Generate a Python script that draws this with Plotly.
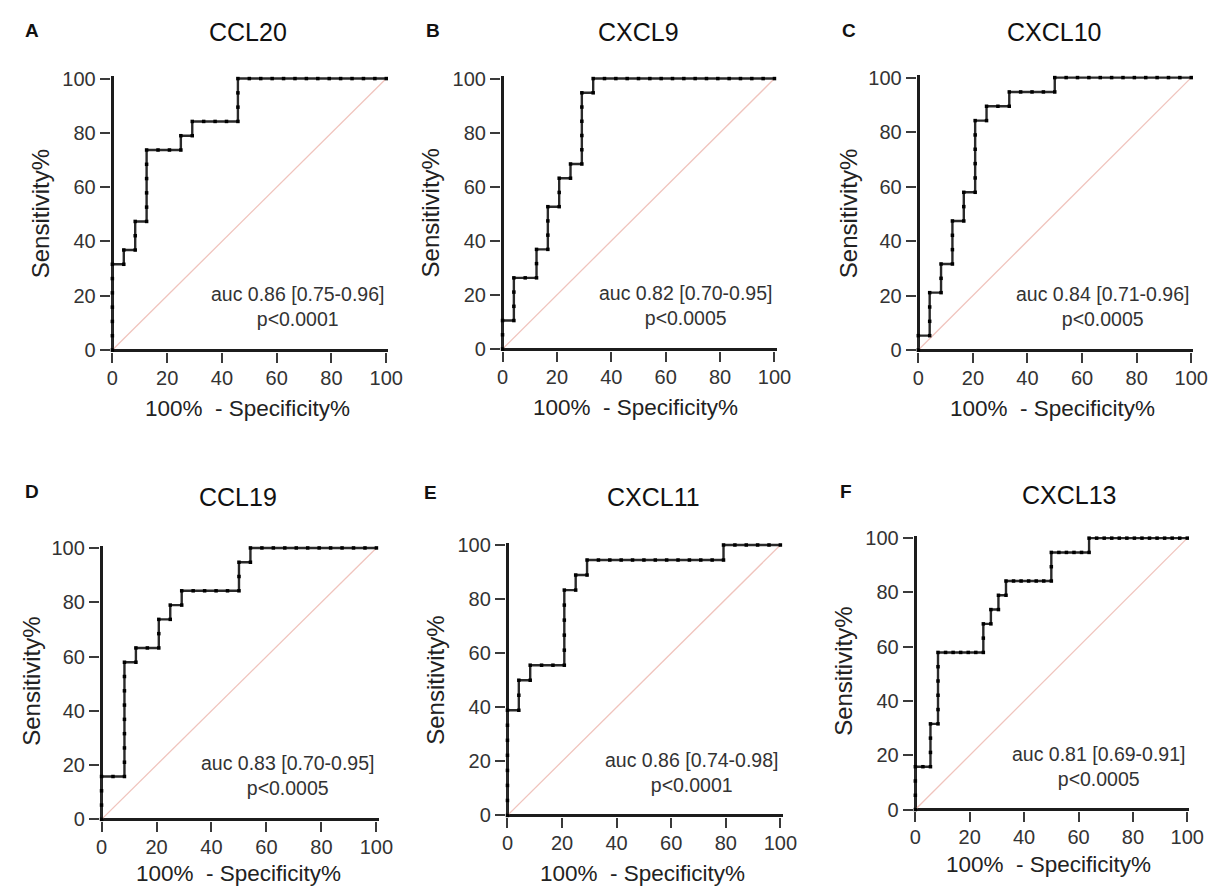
import plotly.graph_objects as go

# ---- ROC data: each panel is a run-length walk through the sorted cutoffs ----
# (cases gained, controls gained) per run; sensitivity = cases / n_cases,
# 100% - specificity = controls / n_controls
panel_letters = ["A", "B", "C", "D", "E", "F"]
markers_names = ["CCL20", "CXCL9", "CXCL10", "CCL19", "CXCL11", "CXCL13"]
n_cases = [19, 19, 19, 19, 18, 19]
n_controls = [24, 24, 24, 24, 24, 36]

ccl20_runs = [(6, 1), (1, 1), (2, 1), (5, 3), (1, 1), (1, 4), (3, 13)]
cxcl9_runs = [(2, 1), (3, 2), (2, 1), (3, 1), (2, 1), (1, 1), (5, 1), (1, 16)]
cxcl10_runs = [(1, 1), (3, 1), (2, 1), (3, 1), (2, 1), (5, 1), (1, 2), (1, 4), (1, 12)]
ccl19_runs = [(3, 2), (8, 1), (1, 2), (2, 1), (1, 1), (1, 5), (2, 1), (1, 11)]
cxcl11_runs = [(7, 1), (2, 1), (1, 3), (5, 1), (1, 1), (1, 12), (1, 5)]
cxcl13_runs = [(3, 2), (3, 1), (5, 6), (2, 1), (1, 1), (1, 1), (1, 6), (2, 5), (1, 13)]
all_runs = [ccl20_runs, cxcl9_runs, cxcl10_runs, ccl19_runs, cxcl11_runs, cxcl13_runs]

auc_labels = [
    "auc 0.86 [0.75-0.96]",
    "auc 0.82 [0.70-0.95]",
    "auc 0.84 [0.71-0.96]",
    "auc 0.83 [0.70-0.95]",
    "auc 0.86 [0.74-0.98]",
    "auc 0.81 [0.69-0.91]",
]
p_labels = ["p<0.0001", "p<0.0005", "p<0.0005", "p<0.0005", "p<0.0001", "p<0.0005"]
tick_values = [0, 20, 40, 60, 80, 100]

# ---- layout geometry (pixels): x of 0 and 100, y of 0 and 100 ----
W, H = 1220, 895
axes_px = [
    (110, 388, 348, 71),
    (506, 782, 347, 71),
    (928, 1205, 348, 70),
    (99, 378, 827, 550),
    (511, 788, 823, 547),
    (925, 1201, 817, 540),
]
title_px = [(248, 23), (644, 23), (1066, 23), (237, 498), (659, 498), (1081, 496)]
letter_px = [(28, 22), (435, 22), (858, 22), (28, 492), (433, 493), (855, 492)]
xtitle_px = [(247, 408), (641, 407), (1064, 408), (238, 882), (648, 882), (1060, 873)]
ytitle_px = [(37, 209), (433, 208), (857, 209), (28, 686), (438, 685), (852, 676)]

LO, HI = -0.6, 100.8
FONT = "Arial, Liberation Sans, sans-serif"
INK = "#1c1c1c"


def roc_points(runs, nc, nn):
    """Walk the cutoffs one observation at a time."""
    tp, fp = 0, 0
    xs, ys = [0.0], [0.0]
    for up, right in runs:
        for _ in range(up):
            tp += 1
            xs.append(100.0 * fp / nn)
            ys.append(100.0 * tp / nc)
        for _ in range(right):
            fp += 1
            xs.append(100.0 * fp / nn)
            ys.append(100.0 * tp / nc)
    return xs, ys


def px2paper(px, py):
    return px / W, 1 - py / H


fig = go.Figure()
annotations = []

for i in range(6):
    k = "" if i == 0 else str(i + 1)
    x0, x100, y0, y100 = axes_px[i]
    sx = (x100 - x0) / 100.0
    sy = (y0 - y100) / 100.0
    left, bottom = px2paper(x0 + LO * sx, y0 - LO * sy)
    right, top = px2paper(x0 + HI * sx, y100 - (HI - 100) * sy)

    axis_common = dict(
        range=[LO, HI],
        tickvals=tick_values,
        ticks="outside",
        ticklen=10,
        tickwidth=2,
        tickcolor="#3a3a3a",
        showgrid=False,
        showline=False,
        zeroline=True,
        zerolinecolor=INK,
        zerolinewidth=2.6,
        tickfont=dict(family=FONT, size=20, color="#333333"),
        fixedrange=True,
    )
    fig.update_layout(**{
        "xaxis" + k: dict(domain=[left, right], anchor="y" + k,
                          ticklabelstandoff=-2, **axis_common),
        "yaxis" + k: dict(domain=[bottom, top], anchor="x" + k, **axis_common),
    })

    # chance line
    fig.add_trace(go.Scatter(
        x=[0, 100], y=[0, 100], mode="lines",
        line=dict(color="#f0c4bd", width=1.3),
        xaxis="x" + k, yaxis="y" + k, hoverinfo="skip",
    ))

    # ROC staircase with a marker at every cutoff
    xs, ys = roc_points(all_runs[i], n_cases[i], n_controls[i])
    fig.add_trace(go.Scatter(
        x=xs, y=ys, mode="lines+markers",
        line=dict(color="#2a2a2a", width=2.4, shape="linear"),
        marker=dict(symbol="square", size=3.5, color="#000000"),
        cliponaxis=False,
        xaxis="x" + k, yaxis="y" + k,
    ))

    annotations.append(dict(
        xref="x" + k, yref="y" + k, x=100, y=16,
        xanchor="right", yanchor="middle", align="center", showarrow=False,
        text=auc_labels[i] + "<br>" + p_labels[i],
        font=dict(family=FONT, size=19.5, color="#333333"),
    ))

    tx, ty = px2paper(*title_px[i])
    annotations.append(dict(
        xref="paper", yref="paper", x=tx, y=ty, xanchor="center", yanchor="middle",
        showarrow=False, text=markers_names[i],
        font=dict(family=FONT, size=25, color="#111111"),
    ))
    lx, ly = px2paper(*letter_px[i])
    annotations.append(dict(
        xref="paper", yref="paper", x=lx, y=ly, xanchor="center", yanchor="middle",
        showarrow=False, text="<b>" + panel_letters[i] + "</b>",
        font=dict(family=FONT, size=19, color="#111111"),
    ))
    ax_, ay_ = px2paper(*xtitle_px[i])
    annotations.append(dict(
        xref="paper", yref="paper", x=ax_, y=ay_, xanchor="center", yanchor="middle",
        showarrow=False, text="100%  - Specificity%",
        font=dict(family=FONT, size=22.5, color="#222222"),
    ))
    yx, yy = px2paper(*ytitle_px[i])
    annotations.append(dict(
        xref="paper", yref="paper", x=yx, y=yy, xanchor="center", yanchor="middle",
        showarrow=False, text="Sensitivity%", textangle=-90,
        font=dict(family=FONT, size=24, color="#222222"),
    ))

fig.update_layout(
    width=W, height=H,
    margin=dict(l=0, r=0, t=0, b=0),
    paper_bgcolor="white", plot_bgcolor="white",
    showlegend=False,
    annotations=annotations,
)

fig.write_html("out.html", post_script="document.body.style.margin='0';")
